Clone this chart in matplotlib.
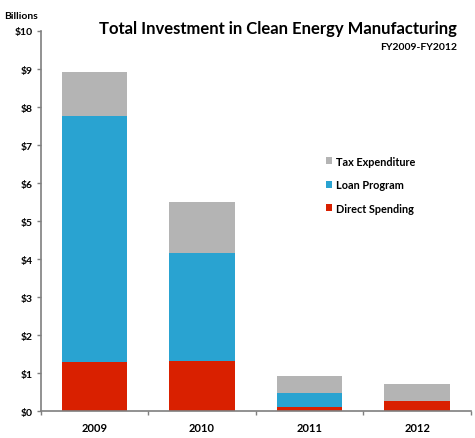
import matplotlib
matplotlib.use("Agg")
import matplotlib.pyplot as plt
import numpy as np

# Data (billions of dollars)
years = ["2009", "2010", "2011", "2012"]
direct_spending = [1.30, 1.32, 0.10, 0.28]
loan_program = [6.46, 2.85, 0.39, 0.0]
tax_expenditure = [1.16, 1.33, 0.44, 0.45]
y_ticks = [0, 1, 2, 3, 4, 5, 6, 7, 8, 9, 10]

plt.rcParams['font.family'] = ['Lato', 'DejaVu Sans']

red = '#d92000'
blue = '#29a3d1'
gray = '#b4b4b4'
axis_col = '#7f7f7f'

fig = plt.figure(figsize=(4.75, 4.39), dpi=100)
ax = fig.add_axes([40.7 / 475, (439 - 412.3) / 439, (471 - 40.7) / 475, (412.3 - 32) / 439])

x = np.arange(len(years))
w = 0.61
d = np.array(direct_spending)
l = np.array(loan_program)
t = np.array(tax_expenditure)

ax.bar(x, d, w, color=red, label='Direct Spending')
ax.bar(x, l, w, bottom=d, color=blue, label='Loan Program')
ax.bar(x, t, w, bottom=d + l, color=gray, label='Tax Expenditure')

ax.set_xlim(-0.5, len(years) - 0.5)
ax.set_ylim(0, 10)

# y axis
ax.set_yticks(y_ticks)
ax.set_yticklabels(['$%d' % v for v in y_ticks], fontsize=7.5, fontweight='bold')
ax.tick_params(axis='y', direction='out', length=3, width=1, color=axis_col, pad=3)

# x axis: labels at centres, tick marks at category boundaries
ax.set_xticks(x)
ax.set_xticklabels(years, fontsize=8, fontweight='bold')
ax.set_xticks(np.arange(-0.5, len(years)), minor=True)
ax.tick_params(axis='x', which='major', length=0, pad=8)
ax.tick_params(axis='x', which='minor', direction='out', length=3, width=1, color=axis_col)

for s in ['top', 'right']:
    ax.spines[s].set_visible(False)
for s in ['left', 'bottom']:
    ax.spines[s].set_color(axis_col)
    ax.spines[s].set_linewidth(1.2)

# Titles
fig.text(456.7 / 475, 1 - 29 / 439, 'Total Investment in Clean Energy Manufacturing',
         ha='right', va='center', fontsize=12, fontweight='bold')
fig.text(456.7 / 475, 1 - 47.7 / 439, 'FY2009-FY2012',
         ha='right', va='center', fontsize=7.5, fontweight='bold')
fig.text(4 / 475, 1 - 16.7 / 439, 'Billions', ha='left', va='center',
         fontsize=7.5, fontweight='bold')

# Legend (reversed order: Tax on top)
handles, labels = ax.get_legend_handles_labels()
ax.legend(handles[::-1], labels[::-1], loc='upper left',
          bbox_to_anchor=((316 - 40.7) / (471 - 40.7), (412.3 - 147) / (412.3 - 32)),
          frameon=False, prop={'weight': 'bold', 'size': 7.8},
          handlelength=0.6, handleheight=0.6, handletextpad=0.3, labelspacing=1.15)

fig.savefig('out.png', dpi=100)
